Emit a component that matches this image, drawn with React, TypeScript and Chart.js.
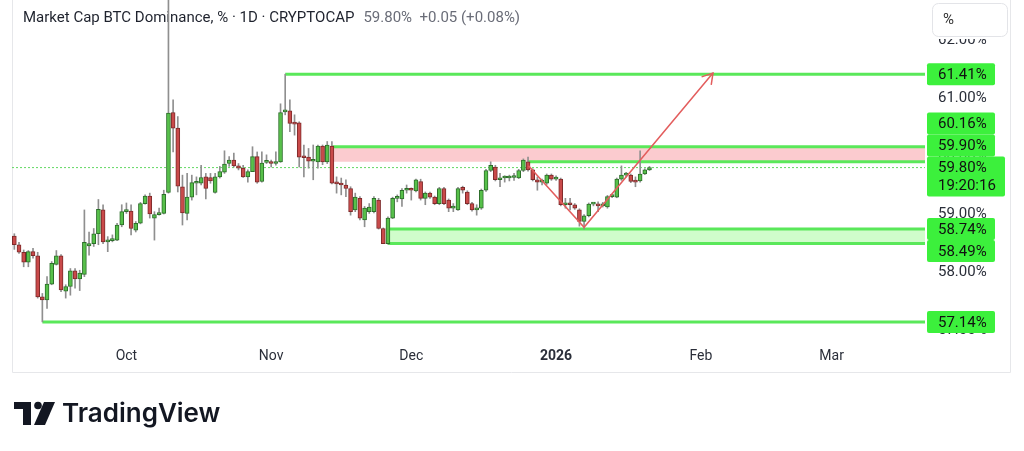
import React, { useEffect, useRef } from 'react';
import { Chart, registerables } from 'chart.js';

Chart.register(...registerables);

// ---------- data ----------
const FIRST_DAY = '2025-09-07';

const opens = [
  58.62, 58.47, 58.34, 58.17, 58.35, 58.28, 57.57, 57.52, 57.79, 58.13,
  58.28, 57.67, 57.75, 58.02, 57.88, 57.96, 58.45, 58.49, 58.66, 59.07,
  58.52, 58.54, 58.55, 58.81, 59.04, 59.05, 58.72, 58.84, 59.18, 59.31,
  58.93, 58.99, 59.01, 59.37, 60.75, 60.48, 59.47, 59.01, 59.29, 59.53,
  59.53, 59.64, 59.63, 59.37, 59.64, 59.72, 59.87, 59.93, 59.83, 59.79,
  59.64, 59.73, 59.99, 59.56, 59.89, 59.88, 59.87, 59.90, 60.76, 60.78,
  60.56, 60.57, 59.98, 59.98, 59.91, 59.90, 60.17, 59.90, 60.17, 59.53,
  59.52, 59.50, 59.44, 59.07, 59.27, 58.90, 59.04, 59.04, 59.24, 58.75,
  58.49, 58.93, 59.27, 59.26, 59.41, 59.42, 59.40, 59.56, 59.27, 59.36,
  59.29, 59.18, 59.44, 59.24, 59.10, 59.07, 59.46, 59.38, 59.18, 59.07,
  59.10, 59.41, 59.75, 59.81, 59.59, 59.62, 59.62, 59.63, 59.62, 59.75,
  59.90, 59.76, 59.59, 59.55, 59.53, 59.67, 59.60, 59.60, 59.16, 59.17,
  59.16, 59.07, 58.87, 58.97, 59.17, 59.16, 59.14, 59.12, 59.30, 59.29,
  59.60, 59.67, 59.67, 59.56, 59.57, 59.69, 59.76,
];
const highs = [
  58.66, 58.51, 58.38, 58.37, 58.41, 58.34, 57.63, 57.92, 58.18, 58.37,
  58.30, 57.78, 58.06, 58.06, 58.03, 59.07, 58.69, 58.75, 59.25, 59.16,
  58.61, 58.64, 58.84, 59.16, 59.19, 59.16, 58.87, 59.20, 59.33, 59.36,
  59.04, 59.10, 59.41, 63.20, 60.97, 60.68, 59.67, 59.70, 59.67, 59.64,
  59.84, 59.70, 59.70, 59.70, 59.82, 60.09, 59.99, 60.05, 59.87, 59.84,
  59.76, 60.16, 60.07, 60.07, 60.02, 59.93, 60.07, 60.90, 61.41, 60.97,
  60.71, 60.59, 60.19, 60.13, 60.19, 60.19, 60.19, 60.25, 60.25, 59.64,
  59.62, 59.59, 59.47, 59.36, 59.30, 59.13, 59.18, 59.30, 59.27, 58.76,
  58.95, 59.29, 59.33, 59.44, 59.50, 59.45, 59.60, 59.60, 59.38, 59.38,
  59.31, 59.46, 59.46, 59.26, 59.18, 59.46, 59.48, 59.40, 59.20, 59.16,
  59.43, 59.77, 59.90, 59.84, 59.70, 59.66, 59.67, 59.70, 59.77, 59.95,
  59.98, 59.78, 59.64, 59.60, 59.69, 59.69, 59.66, 59.62, 59.27, 59.27,
  59.18, 59.09, 58.99, 59.19, 59.19, 59.21, 59.20, 59.32, 59.33, 59.62,
  59.83, 59.72, 59.69, 59.64, 60.09, 59.78, 59.82,
];
const lows = [
  58.39, 58.32, 58.09, 58.09, 58.24, 57.55, 57.14, 57.37, 57.78, 58.12,
  57.66, 57.55, 57.60, 57.72, 57.68, 57.92, 58.29, 58.44, 58.47, 58.49,
  58.35, 58.52, 58.54, 58.78, 59.01, 58.64, 58.69, 58.83, 59.17, 58.93,
  58.55, 58.98, 59.00, 59.36, 60.07, 59.38, 58.81, 58.90, 59.24, 59.33,
  59.50, 59.26, 59.53, 59.36, 59.62, 59.70, 59.82, 59.81, 59.76, 59.63,
  59.55, 59.73, 59.53, 59.55, 59.87, 59.81, 59.84, 59.89, 60.71, 60.42,
  60.36, 59.81, 59.64, 59.79, 59.59, 59.79, 59.85, 59.87, 59.52, 59.36,
  59.33, 59.30, 58.98, 59.04, 58.90, 58.78, 59.01, 59.02, 58.74, 58.49,
  58.48, 58.92, 59.21, 59.13, 59.36, 59.24, 59.38, 59.24, 59.16, 59.27,
  59.16, 59.16, 59.16, 59.04, 59.04, 59.06, 59.36, 59.16, 59.05, 58.98,
  59.08, 59.39, 59.73, 59.57, 59.47, 59.55, 59.57, 59.58, 59.61, 59.73,
  59.74, 59.57, 59.41, 59.50, 59.51, 59.58, 59.58, 59.14, 59.10, 59.07,
  59.08, 58.79, 58.74, 58.95, 59.14, 59.04, 59.12, 59.10, 59.28, 59.28,
  59.58, 59.64, 59.54, 59.47, 59.55, 59.68, 59.75,
];
const closes = [
  58.47, 58.34, 58.17, 58.35, 58.28, 57.57, 57.52, 57.79, 58.15, 58.28,
  57.69, 57.75, 58.02, 57.88, 57.98, 58.51, 58.49, 58.66, 59.08, 58.52,
  58.54, 58.55, 58.81, 59.04, 59.06, 58.75, 58.84, 59.18, 59.31, 59.00,
  58.99, 59.01, 59.34, 60.74, 60.48, 59.48, 59.02, 59.29, 59.54, 59.55,
  59.63, 59.44, 59.57, 59.64, 59.73, 59.86, 59.93, 59.83, 59.79, 59.64,
  59.73, 59.99, 59.55, 59.88, 59.91, 59.87, 59.90, 60.75, 60.79, 60.56,
  60.55, 59.98, 59.97, 59.91, 59.93, 60.17, 59.90, 60.19, 59.53, 59.52,
  59.50, 59.44, 59.04, 59.29, 58.93, 59.10, 59.12, 59.27, 58.75, 58.49,
  58.93, 59.27, 59.29, 59.41, 59.43, 59.41, 59.59, 59.27, 59.36, 59.29,
  59.18, 59.44, 59.18, 59.10, 59.12, 59.44, 59.41, 59.18, 59.07, 59.10,
  59.41, 59.75, 59.84, 59.59, 59.62, 59.62, 59.63, 59.63, 59.75, 59.93,
  59.76, 59.59, 59.55, 59.57, 59.67, 59.60, 59.62, 59.16, 59.17, 59.16,
  59.10, 58.87, 58.97, 59.17, 59.17, 59.14, 59.16, 59.30, 59.31, 59.60,
  59.67, 59.68, 59.56, 59.55, 59.69, 59.76, 59.80,
];

const monthTickDates = ['2025-10-01', '2025-11-01', '2025-12-01', '2026-01-01', '2026-02-01', '2026-03-01'];
const monthTickLabels = ['Oct', 'Nov', 'Dec', '2026', 'Feb', 'Mar'];
const priceTicks = [57, 58, 59, 60, 61, 62];

const levelValues = [61.41, 60.16, 59.9, 58.74, 58.49, 57.14];
const levelStartBars = [58, 68, 110, 80, 80, 6];
const resistanceZone = [59.9, 60.16];
const resistanceStartBar = 68;
const supportZone = [58.49, 58.74];
const supportStartBar = 80;

const arrowBars = [110.1, 122, 149.6];
const arrowValues = [59.83, 58.77, 61.43];

const lastPrice = 59.8;
const countdown = '19:20:16';
const titleText = 'Market Cap BTC Dominance, % · 1D · CRYPTOCAP';
const quoteText = '59.80%  +0.05 (+0.08%)';

const X_MIN = -0.5;
const X_MAX = 195;
const Y_MIN = 56.8276;
const Y_MAX = 62.6897;

// ---------- helpers ----------
const DAY = 86400000;
const barOf = (d: string) => Math.round((Date.parse(d) - Date.parse(FIRST_DAY)) / DAY);
const monthTickBars = monthTickDates.map(barOf);

const GREEN_LINE = '#5ae85a';
const GREEN_BOX = '#3cf03c';
const UP_FILL = '#57c04a';
const UP_EDGE = '#2c6e2a';
const DN_FILL = '#c94a4a';
const DN_EDGE = '#7e2a2a';
const FONT = 'Roboto, "Noto Sans", sans-serif';

const hline = (v: number, start: number) => [
  { x: start, y: v },
  { x: X_MAX, y: v },
];

const overlayPlugin = {
  id: 'overlay',
  beforeDraw(chart: any) {
    const ctx = chart.ctx;
    const xs = chart.scales.x;
    ctx.save();
    ctx.fillStyle = '#ffffff';
    ctx.fillRect(0, 0, chart.width, chart.height);
    ctx.strokeStyle = '#e6e7ea';
    ctx.lineWidth = 1;
    ctx.beginPath();
    ctx.moveTo(chart.chartArea.left + 0.5, 0);
    ctx.lineTo(chart.chartArea.left + 0.5, xs.bottom + 0.5);
    ctx.lineTo(1010.5, xs.bottom + 0.5);
    ctx.lineTo(1010.5, 0);
    ctx.stroke();
    // title
    ctx.font = `15px ${FONT}`;
    ctx.textBaseline = 'middle';
    ctx.textAlign = 'left';
    ctx.fillStyle = '#1e222d';
    ctx.fillText(titleText, 23, 18);
    const w = ctx.measureText(titleText).width;
    ctx.fillStyle = '#6a6d78';
    ctx.fillText(quoteText, 23 + w + 9, 18);
    ctx.restore();
  },
  afterDatasetsDraw(chart: any) {
    const ctx = chart.ctx;
    const xs = chart.scales.x;
    const ys = chart.scales.y;
    const n = arrowBars.length;
    const px = xs.getPixelForValue(arrowBars[n - 1]);
    const py = ys.getPixelForValue(arrowValues[n - 1]);
    const qx = xs.getPixelForValue(arrowBars[n - 2]);
    const qy = ys.getPixelForValue(arrowValues[n - 2]);
    const ang = Math.atan2(py - qy, px - qx);
    const len = 12;
    ctx.save();
    ctx.strokeStyle = '#e35d5d';
    ctx.lineWidth = 1.5;
    ctx.beginPath();
    ctx.moveTo(px + len * Math.cos(ang + Math.PI - 0.55), py + len * Math.sin(ang + Math.PI - 0.55));
    ctx.lineTo(px, py);
    ctx.lineTo(px + len * Math.cos(ang + Math.PI + 0.55), py + len * Math.sin(ang + Math.PI + 0.55));
    ctx.stroke();
    ctx.restore();
  },
  afterDraw(chart: any) {
    const ctx = chart.ctx;
    const ys = chart.scales.y;
    const boxX = 927;
    const h = 22;
    ctx.save();
    ctx.font = `15px ${FONT}`;
    ctx.textBaseline = 'middle';
    ctx.textAlign = 'left';

    const lastY = ys.getPixelForValue(lastPrice);
    const lastTop = lastY - h / 2;
    const box = (y: number, w: number, hh: number) => {
      ctx.fillStyle = GREEN_BOX;
      ctx.beginPath();
      ctx.roundRect(boxX, y, w, hh, 2);
      ctx.fill();
    };
    // levels above / below last price, pushed apart like the price scale does
    const above = levelValues.filter((v) => v > lastPrice).sort((a, b) => a - b);
    const below = levelValues.filter((v) => v < lastPrice).sort((a, b) => b - a);
    let prevTop = lastTop;
    for (const v of above) {
      const c = Math.min(ys.getPixelForValue(v), prevTop - h / 2);
      box(c - h / 2, 68, h);
      ctx.fillStyle = '#111';
      ctx.fillText(v.toFixed(2) + '%', 938, c + 1);
      prevTop = c - h / 2;
    }
    let prevBottom = lastTop + 2 * h - 4;
    for (const v of below) {
      const c = Math.max(ys.getPixelForValue(v), prevBottom + h / 2);
      box(c - h / 2, 68, h);
      ctx.fillStyle = '#111';
      ctx.fillText(v.toFixed(2) + '%', 938, c + 1);
      prevBottom = c + h / 2;
    }
    box(lastTop, 78, 2 * h - 4);
    ctx.fillStyle = '#111';
    ctx.fillText(lastPrice.toFixed(2) + '%', 938, lastY + 1);
    ctx.fillText(countdown, 938, lastY + 19);

    // unit button (with white backing over the top of the price scale)
    ctx.fillStyle = '#ffffff';
    ctx.fillRect(926, 0, 84, 39);
    ctx.strokeStyle = '#e3e4e8';
    ctx.lineWidth = 1;
    ctx.beginPath();
    ctx.roundRect(932.5, 3.5, 75, 33, 6);
    ctx.fill();
    ctx.stroke();
    ctx.fillStyle = '#333';
    ctx.fillText('%', 943, 20);

    // TradingView logo
    ctx.fillStyle = '#131722';
    ctx.fillRect(14, 402, 17, 7);
    ctx.fillRect(23, 402, 8, 23);
    ctx.beginPath();
    ctx.arc(38, 405.5, 3.8, 0, Math.PI * 2);
    ctx.fill();
    ctx.beginPath();
    ctx.moveTo(44, 402);
    ctx.lineTo(55, 402);
    ctx.lineTo(45, 425);
    ctx.lineTo(34, 425);
    ctx.closePath();
    ctx.fill();
    ctx.font = `600 26px Inter, ${FONT}`;
    ctx.textBaseline = 'alphabetic';
    ctx.fillText('TradingView', 62, 422);
    ctx.restore();
  },
};

export default function App() {
  const ref = useRef<HTMLCanvasElement>(null);
  useEffect(() => {
    const canvas = ref.current;
    if (!canvas) return;
    const up = opens.map((o, i) => closes[i] >= o);
    const chart = new Chart(canvas, {
      type: 'bar',
      data: {
        datasets: [
          {
            type: 'line',
            data: hline(resistanceZone[1], resistanceStartBar),
            borderColor: 'transparent',
            borderWidth: 0,
            backgroundColor: 'rgba(247, 160, 168, 0.55)',
            fill: { value: resistanceZone[0] },
            pointRadius: 0,
            order: 6,
          } as any,
          {
            type: 'line',
            data: hline(supportZone[1], supportStartBar),
            borderColor: 'transparent',
            borderWidth: 0,
            backgroundColor: 'rgba(150, 250, 140, 0.45)',
            fill: { value: supportZone[0] },
            pointRadius: 0,
            order: 6,
          } as any,
          ...levelValues.map((v, k) => ({
            type: 'line',
            data: hline(v, levelStartBars[k]),
            borderColor: GREEN_LINE,
            borderWidth: 3,
            pointRadius: 0,
            fill: false,
            order: 5,
          })) as any,
          {
            type: 'line',
            data: [
              { x: supportStartBar, y: supportZone[0] },
              { x: supportStartBar, y: supportZone[1] },
            ],
            borderColor: GREEN_LINE,
            borderWidth: 3,
            pointRadius: 0,
            fill: false,
            order: 5,
          } as any,
          {
            type: 'line',
            data: hline(lastPrice, X_MIN),
            borderColor: '#62d862',
            borderWidth: 1,
            borderDash: [2, 2],
            pointRadius: 0,
            fill: false,
            order: 4,
          } as any,
          {
            type: 'bar',
            data: opens.map((_, i) => ({ x: i, y: [lows[i], highs[i]] })),
            backgroundColor: '#8f8f8f',
            barThickness: 1,
            grouped: false,
            order: 3,
          } as any,
          {
            type: 'bar',
            data: opens.map((o, i) => ({ x: i, y: [o, closes[i]] })),
            backgroundColor: up.map((u) => (u ? UP_FILL : DN_FILL)),
            borderColor: up.map((u) => (u ? UP_EDGE : DN_EDGE)),
            borderWidth: 1,
            borderSkipped: false,
            barThickness: 4,
            minBarLength: 2,
            grouped: false,
            order: 2,
          } as any,
          {
            type: 'line',
            data: arrowBars.map((b, i) => ({ x: b, y: arrowValues[i] })),
            borderColor: '#e35d5d',
            borderWidth: 1.5,
            pointRadius: 0,
            fill: false,
            order: 1,
          } as any,
        ],
      },
      options: {
        responsive: false,
        maintainAspectRatio: false,
        animation: false,
        events: [],
        layout: { padding: { left: 12, right: 0, top: 0, bottom: 79 } },
        plugins: { legend: { display: false }, tooltip: { enabled: false } },
        scales: {
          x: {
            type: 'linear',
            min: X_MIN,
            max: X_MAX,
            offset: false,
            grid: { display: false, drawTicks: false },
            border: { display: false },
            afterBuildTicks: (s: any) => {
              s.ticks = monthTickBars.map((v) => ({ value: v }));
            },
            afterFit: (s: any) => {
              s.height = 32;
              s.paddingLeft = 0;
              s.paddingRight = 0;
            },
            ticks: {
              autoSkip: false,
              maxRotation: 0,
              padding: 8,
              color: '#2a2e39',
              font: (c: any) => ({
                family: FONT,
                size: 14,
                weight: c.tick && c.tick.label === '2026' ? 'bold' : 'normal',
              }),
              callback: (v: any) => {
                const k = monthTickBars.indexOf(Math.round(Number(v)));
                return k >= 0 ? monthTickLabels[k] : '';
              },
            },
          },
          y: {
            type: 'linear',
            position: 'right',
            min: Y_MIN,
            max: Y_MAX,
            grid: { display: false, drawTicks: false },
            border: { display: false },
            afterBuildTicks: (s: any) => {
              s.ticks = priceTicks.map((v) => ({ value: v }));
            },
            afterFit: (s: any) => {
              s.width = 99;
              s.paddingTop = 0;
              s.paddingBottom = 0;
            },
            ticks: {
              padding: 13,
              color: '#2a2e39',
              font: { family: FONT, size: 15 },
              callback: (v: any) => Number(v).toFixed(2) + '%',
            },
          },
        },
      },
      plugins: [overlayPlugin],
    } as any);
    return () => chart.destroy();
  }, []);
  return (
    <div style={{ position: 'absolute', left: 0, top: 0, width: 1024, height: 451 }}>
      <canvas ref={ref} width={1024} height={451} style={{ display: 'block', width: 1024, height: 451 }} />
    </div>
  );
}
